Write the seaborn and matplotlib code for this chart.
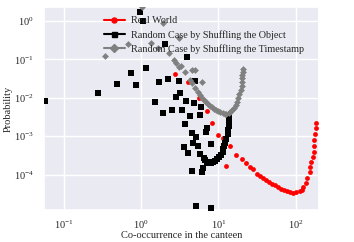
"""
Co-occurrence probability: real world vs two shuffled baselines.
"""

import numpy as np
import pandas as pd
import matplotlib
matplotlib.use("Agg")
import matplotlib.pyplot as plt
from matplotlib.lines import Line2D
import seaborn as sns

### Data ###

real_x = [2.70, 4.09, 5.68, 7.21, 8.36, 10.0, 11.3, 14.3, 12.7, 17.1, 20.4, 23.0,
          25.9, 28.4, 32.0, 34.9, 38.2, 41.8, 45.7, 50.0, 54.7, 59.7, 65.3, 71.4,
          78.1, 85.4, 93.3, 102, 112, 119, 126, 134, 142, 151, 155, 160, 165, 170,
          175, 175, 180, 185, 185]
real_y = [0.0416, 0.0258, 0.0099, 0.00458, 0.00224, 0.00109, 0.000915, 0.000568,
          0.000172, 0.000332, 0.000261, 0.000206, 0.000162, 0.000144, 0.000107,
          9.48e-5, 8.41e-5, 7.46e-5, 6.62e-5, 5.88e-5, 5.54e-5, 4.92e-5, 4.36e-5,
          4.11e-5, 3.65e-5, 3.44e-5, 3.24e-5, 3.44e-5, 3.65e-5, 4.11e-5, 4.92e-5,
          6.24e-5, 8.41e-5, 0.000120, 0.000162, 0.000218, 0.000294, 0.000397,
          0.000568, 0.000811, 0.00116, 0.00166, 0.00224]

object_x = [0.0561, 0.280, 0.493, 0.727, 0.844, 0.951, 1.07, 1.17, 1.53, 1.72, 1.89,
            2.06, 2.19, 2.47, 2.78, 3.13, 3.22, 3.42, 3.85, 3.97, 4.89, 5.04, 6.03,
            4.22, 5.85, 3.74, 7.21, 7.00, 4.48, 5.19, 4.75, 8.11, 3.63, 5.51, 4.09,
            5.85, 6.40, 6.21, 4.61, 5.19, 8.11,
            6.59, 6.79, 7.21, 7.65, 8.11, 8.61, 9.14, 9.71, 10.3, 10.9, 11.3, 11.6,
            11.9, 12.3, 12.7, 13.1, 13.1, 13.5, 13.5, 13.9]
object_y = [0.00832, 0.0134, 0.0229, 0.0442, 0.0216, 1.68, 0.98, 0.0595, 0.00783,
            0.0258, 0.00406, 0.249, 0.0309, 0.00486, 0.0105, 0.0274, 0.0134,
            0.00486, 0.00832, 0.115, 0.00738, 0.0274, 0.00581, 0.00340, 0.00361,
            0.00211, 0.00166, 0.00131, 0.00123, 0.00097, 0.000679, 0.000640,
            0.000535, 0.000568, 0.000374, 0.000352, 0.000153, 0.000120, 0.000128,
            1.49e-5, 1.32e-5,
            0.000277, 0.000246, 0.000218, 0.000206, 0.000206, 0.000218, 0.000232,
            0.000261, 0.000294, 0.000332, 0.000397, 0.000475, 0.000568, 0.000679,
            0.000861, 0.00116, 0.00147, 0.00187, 0.00238, 0.00301]

stamp_x = [0.335, 0.665, 1.01, 1.32, 1.67, 1.89, 2.32, 2.62, 2.86, 3.04, 3.13, 3.32,
           3.74, 4.61, 5.04, 4.22, 4.61, 5.04, 6.21, 5.51, 5.85, 6.21, 6.59, 7.00,
           7.43, 7.88, 8.36, 8.87, 9.42, 10.0, 10.6, 11.3, 12.0, 12.7, 13.5, 14.3,
           15.2, 16.1, 17.1, 17.6, 18.1, 18.7, 19.3, 19.9, 19.9, 20.4, 20.4, 21.0,
           21.0]
stamp_y = [0.122, 0.249, 2.26, 0.264, 0.196, 0.871, 0.146, 0.096, 0.080, 0.356,
           0.063, 0.067, 0.0469, 0.0528, 0.0528, 0.0291, 0.0243, 0.0180, 0.0258,
           0.0142, 0.0119, 0.0099, 0.00883, 0.00783, 0.00695, 0.00617, 0.00581,
           0.00516, 0.00486, 0.00458, 0.00431, 0.00406, 0.00383, 0.00383, 0.00406,
           0.00431, 0.00486, 0.00547, 0.00655, 0.00783, 0.0099, 0.0126, 0.0160,
           0.0203, 0.0258, 0.0328, 0.0392, 0.0469, 0.0561]

labels = ["Real World",
          "Random Case by Shuffling the Object",
          "Random Case by Shuffling the Timestamp"]

### Style ###

sns.set_theme(style="darkgrid")
plt.rcParams["font.family"] = ["Liberation Serif", "DejaVu Serif"]
plt.rcParams["mathtext.fontset"] = "stix"

### Plot ###

fig = plt.figure(figsize=(3.54, 2.42), dpi=100)
ax = fig.add_axes([0.124, 0.132, 0.777, 0.839])

series = [
    (real_x, real_y, "red", "o", 12),
    (object_x, object_y, "black", "s", 14),
    (stamp_x, stamp_y, "gray", "D", 12),
]
for xs, ys, color, marker, size in series:
    df = pd.DataFrame({"x": xs, "y": ys})
    sns.scatterplot(data=df, x="x", y="y", color=color, marker=marker,
                    s=size, linewidth=0, ax=ax, zorder=3)

ax.set_xscale("log")
ax.set_yscale("log")
ax.set_xlim(0.055, 200)
ax.set_ylim(1.2e-5, 2.3)
ax.set_xlabel("Co-occurrence in the canteen", fontsize=7.5, labelpad=0)
ax.set_ylabel("Probability", fontsize=7.5, labelpad=1)
ax.tick_params(axis="x", labelsize=7.5, pad=0)
ax.tick_params(axis="y", labelsize=7.5, pad=1)
ax.grid(which="minor", visible=False)

handles = [Line2D([0], [0], color=c, marker=m, markersize=3.6, lw=1.5)
           for _, _, c, m, _ in series]
ax.legend(handles, labels, loc="upper left", bbox_to_anchor=(0.205, 0.975),
          frameon=False, fontsize=7.3, handlelength=2.0, borderaxespad=0,
          labelspacing=0.45, handletextpad=0.6)

plt.savefig("out.png", dpi=100)
